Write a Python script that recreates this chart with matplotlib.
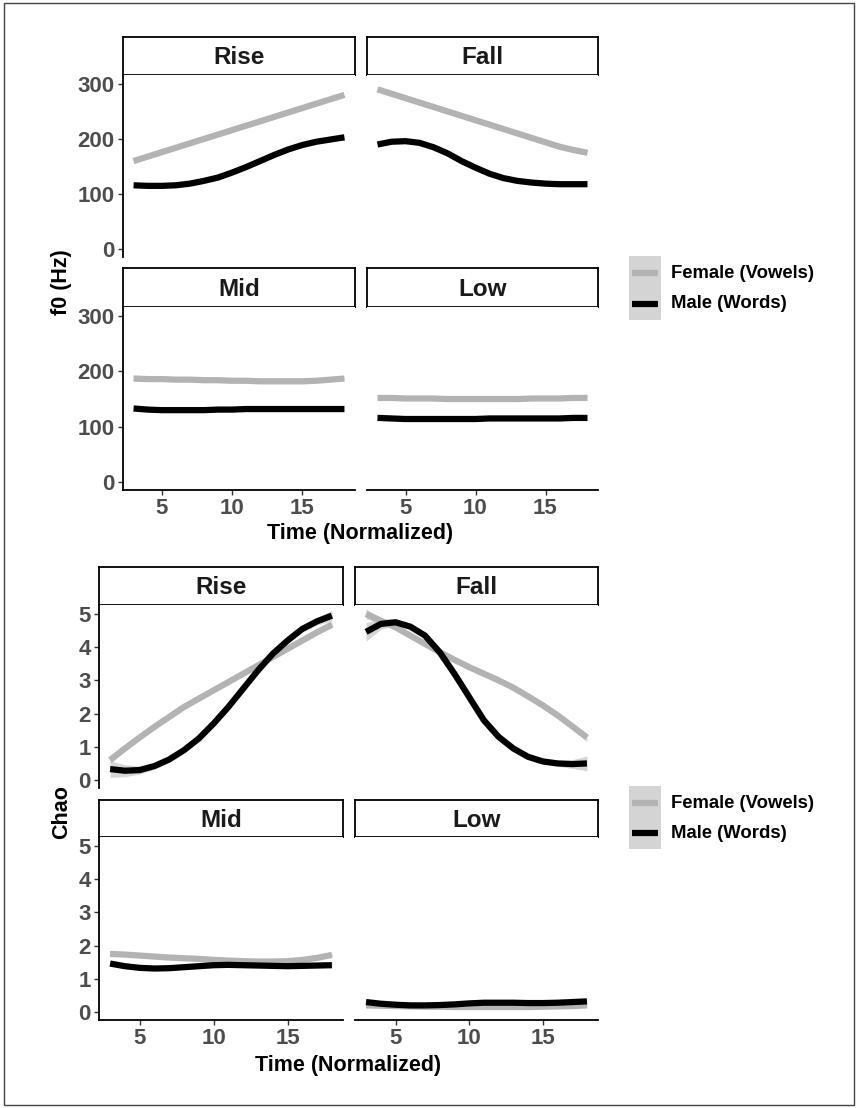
import matplotlib
matplotlib.use("Agg")
import matplotlib.pyplot as plt
from matplotlib.patches import Rectangle
from matplotlib.lines import Line2D

plt.rcParams['font.family'] = ['Liberation Sans', 'DejaVu Sans']
plt.rcParams['font.weight'] = 'bold'

# ---- data ----
time = [3, 4, 5, 6, 7, 8, 9, 10, 11, 12, 13, 14, 15, 16, 17, 18]
tones = ["Rise", "Fall", "Mid", "Low"]
series_labels = ["Female (Vowels)", "Male (Words)"]

# f0 in Hz
f0_female = {
    "Rise": [160, 168, 176, 184, 192, 200, 208, 216, 224, 232, 240, 248, 256, 264, 272, 280],
    "Fall": [290, 282, 274, 266, 258, 250, 242, 234, 226, 218, 210, 202, 194, 186, 180, 175],
    "Mid": [187, 186, 186, 185, 185, 184, 184, 183, 183, 182, 182, 182, 182, 183, 185, 187],
    "Low": [152, 152, 151, 151, 151, 150, 150, 150, 150, 150, 150, 151, 151, 151, 152, 152],
}
f0_male = {
    "Rise": [116, 115, 115, 116, 119, 124, 130, 139, 149, 160, 171, 181, 189, 195, 199, 203],
    "Fall": [190, 195, 196, 193, 185, 174, 160, 148, 137, 129, 124, 121, 119, 118, 118, 118],
    "Mid": [133, 131, 130, 130, 130, 130, 131, 131, 132, 132, 132, 132, 132, 132, 132, 132],
    "Low": [116, 115, 114, 114, 114, 114, 114, 114, 115, 115, 115, 115, 115, 115, 116, 116],
}

# Chao tone numbers
chao_female = {
    "Rise": [0.60, 0.95, 1.28, 1.60, 1.90, 2.20, 2.45, 2.70, 2.95, 3.20, 3.45, 3.70, 3.95, 4.20, 4.45, 4.68],
    "Fall": [5.00, 4.80, 4.60, 4.35, 4.10, 3.85, 3.62, 3.40, 3.20, 3.00, 2.78, 2.52, 2.25, 1.95, 1.62, 1.28],
    "Mid": [1.75, 1.73, 1.70, 1.67, 1.64, 1.62, 1.60, 1.57, 1.55, 1.53, 1.52, 1.52, 1.53, 1.57, 1.63, 1.72],
    "Low": [0.20, 0.19, 0.18, 0.17, 0.16, 0.16, 0.15, 0.15, 0.15, 0.15, 0.15, 0.15, 0.16, 0.17, 0.18, 0.20],
}
chao_male = {
    "Rise": [0.33, 0.28, 0.30, 0.42, 0.62, 0.90, 1.25, 1.70, 2.20, 2.75, 3.30, 3.80, 4.20, 4.55, 4.78, 4.95],
    "Fall": [4.46, 4.70, 4.75, 4.62, 4.35, 3.85, 3.20, 2.50, 1.80, 1.30, 0.95, 0.70, 0.56, 0.50, 0.48, 0.50],
    "Mid": [1.46, 1.38, 1.33, 1.31, 1.32, 1.35, 1.38, 1.41, 1.42, 1.41, 1.40, 1.39, 1.38, 1.39, 1.40, 1.41],
    "Low": [0.30, 0.25, 0.22, 0.20, 0.20, 0.21, 0.23, 0.26, 0.28, 0.28, 0.28, 0.27, 0.27, 0.28, 0.30, 0.32],
}
# half width of the confidence band around each smooth
chao_se_female = {
    "Rise": [0.10, 0.06, 0.05, 0.04, 0.04, 0.04, 0.04, 0.04, 0.04, 0.04, 0.04, 0.04, 0.04, 0.05, 0.06, 0.10],
    "Fall": [0.15, 0.08, 0.05, 0.04, 0.04, 0.04, 0.04, 0.04, 0.04, 0.04, 0.04, 0.04, 0.04, 0.05, 0.07, 0.12],
    "Mid": [0.06, 0.04, 0.03, 0.03, 0.03, 0.03, 0.03, 0.03, 0.03, 0.03, 0.03, 0.03, 0.03, 0.03, 0.04, 0.06],
    "Low": [0.06, 0.04, 0.03, 0.03, 0.03, 0.03, 0.03, 0.03, 0.03, 0.03, 0.03, 0.03, 0.03, 0.03, 0.04, 0.06],
}
chao_se_male = {
    "Rise": [0.25, 0.18, 0.12, 0.09, 0.08, 0.08, 0.08, 0.08, 0.08, 0.08, 0.08, 0.08, 0.08, 0.09, 0.11, 0.16],
    "Fall": [0.28, 0.16, 0.10, 0.08, 0.08, 0.08, 0.08, 0.08, 0.08, 0.08, 0.08, 0.08, 0.08, 0.09, 0.13, 0.22],
    "Mid": [0.06, 0.04, 0.03, 0.03, 0.03, 0.03, 0.03, 0.03, 0.03, 0.03, 0.03, 0.03, 0.03, 0.03, 0.04, 0.06],
    "Low": [0.06, 0.04, 0.03, 0.03, 0.03, 0.03, 0.03, 0.03, 0.03, 0.03, 0.03, 0.03, 0.03, 0.03, 0.04, 0.06],
}

x_ticks = [5, 10, 15]
f0_ticks = [0, 100, 200, 300]
chao_ticks = [0, 1, 2, 3, 4, 5]

# ---- styling ----
W, H = 857, 1108
FEMALE_COL = "#b3b3b3"
MALE_COL = "#000000"
BAND_COL = "#999999"
TICK_COL = "#4d4d4d"
LW = 4.5


def px_box(x0, y0, x1, y1):
    """pixel box (top-left origin) -> figure fraction [l, b, w, h]"""
    return [x0 / W, 1 - y1 / H, (x1 - x0) / W, (y1 - y0) / H]


fig = plt.figure(figsize=(W / 100, H / 100), dpi=100)


def draw_block(cols, rows, ylim, yticks, female, male, se_f, se_m,
               ylabel, ylabel_y, xlabel_y, legend_y):
    for i, tone in enumerate(tones):
        r, c = divmod(i, 2)
        x0, x1 = cols[c]
        s0, s1, p1 = rows[r]
        # strip
        sax = fig.add_axes(px_box(x0, s0, x1, s1))
        sax.set_xticks([])
        sax.set_yticks([])
        for sp in sax.spines.values():
            sp.set_linewidth(1.3)
            sp.set_color("black")
        sax.text(0.5, 0.45, tone, ha="center", va="center", fontsize=17.5,
                 fontweight="bold", color="#1a1a1a", transform=sax.transAxes)
        # panel
        ax = fig.add_axes(px_box(x0, s1, x1, p1))
        if se_f is not None:
            lo = [v - e for v, e in zip(female[tone], se_f[tone])]
            hi = [v + e for v, e in zip(female[tone], se_f[tone])]
            ax.fill_between(time, lo, hi, color=BAND_COL, alpha=0.4, lw=0)
            lo = [v - e for v, e in zip(male[tone], se_m[tone])]
            hi = [v + e for v, e in zip(male[tone], se_m[tone])]
            ax.fill_between(time, lo, hi, color=BAND_COL, alpha=0.4, lw=0)
        ax.plot(time, female[tone], color=FEMALE_COL, lw=LW,
                solid_capstyle="butt", solid_joinstyle="round")
        ax.plot(time, male[tone], color=MALE_COL, lw=LW,
                solid_capstyle="butt", solid_joinstyle="round")
        ax.set_xlim(2.25, 18.75)
        ax.set_ylim(*ylim)
        ax.set_xticks(x_ticks)
        ax.set_yticks(yticks)
        ax.spines["top"].set_visible(False)
        ax.spines["right"].set_visible(False)
        ax.spines["left"].set_linewidth(1.3)
        ax.spines["bottom"].set_linewidth(1.3)
        ax.tick_params(length=3.5, width=1, color="#333333", labelcolor=TICK_COL,
                       labelsize=16, pad=2.5)
        for lab in ax.get_xticklabels() + ax.get_yticklabels():
            lab.set_fontweight("bold")
        if c == 1:
            ax.spines["left"].set_visible(False)
            ax.tick_params(axis="y", left=False, labelleft=False)
        if r == 0:
            ax.spines["bottom"].set_visible(False)
            ax.tick_params(axis="x", bottom=False, labelbottom=False)

    left = cols[0][0]
    right = cols[1][1]
    fig.text(62 / W, 1 - ylabel_y / H, ylabel, rotation=90, ha="center", va="center",
             fontsize=15.5, fontweight="bold")
    fig.text((left + right) / 2 / W, 1 - xlabel_y / H, "Time (Normalized)",
             ha="center", va="center", fontsize=15.5, fontweight="bold")

    # legend
    ky0, ky1 = legend_y
    fig.patches.append(Rectangle((629 / W, 1 - ky1 / H), 32 / W, (ky1 - ky0) / H,
                                 transform=fig.transFigure, facecolor="#d4d4d4",
                                 edgecolor="none"))
    centers = [ky0 + (ky1 - ky0) * 0.27, ky0 + (ky1 - ky0) * 0.75]
    for lab, col, yc in zip(series_labels, [FEMALE_COL, MALE_COL], centers):
        fig.lines.append(Line2D([632 / W, 658 / W], [1 - yc / H, 1 - yc / H],
                                transform=fig.transFigure, color=col, lw=LW,
                                solid_capstyle="butt"))
        fig.text(671 / W, 1 - yc / H, lab, ha="left", va="center", fontsize=13.3,
                 fontweight="bold")


# top block: f0 (Hz)
draw_block(cols=[(123, 355), (367, 598)],
           rows=[(37, 75, 257), (268, 307, 490)],
           ylim=(-14, 316), yticks=f0_ticks,
           female=f0_female, male=f0_male, se_f=None, se_m=None,
           ylabel="f0 (Hz)", ylabel_y=282, xlabel_y=533, legend_y=(256, 320))

# bottom block: Chao
draw_block(cols=[(99, 343), (355, 598)],
           rows=[(567, 605, 788), (800, 837, 1020)],
           ylim=(-0.24, 5.27), yticks=chao_ticks,
           female=chao_female, male=chao_male, se_f=chao_se_female, se_m=chao_se_male,
           ylabel="Chao", ylabel_y=812, xlabel_y=1066, legend_y=(786, 849))

# outer frame
fig.patches.append(Rectangle((4 / W, 1 - 1105 / H), 850 / W, 1102 / H,
                             transform=fig.transFigure, facecolor="none",
                             edgecolor="#444444", lw=1))

fig.savefig("out.png", dpi=100)
